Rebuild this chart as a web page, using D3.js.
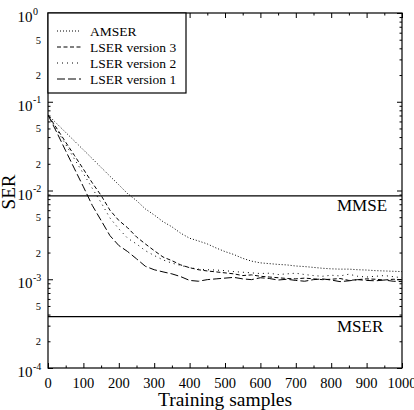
<!DOCTYPE html>
<html>
<head>
<meta charset="utf-8">
<script src="https://cdn.jsdelivr.net/npm/d3@7"></script>
<style>
body{margin:0;background:#fff}
svg text{font-family:"Liberation Serif","Times New Roman",serif;fill:#000}
</style>
</head>
<body>
<svg id="chart" width="414" height="410"></svg>
<script>
// training sample index (x)
const samples = [0,25,50,75,100,125,150,175,200,225,250,275,300,325,350,375,400,425,450,475,500,
  525,550,575,600,625,650,675,700,725,750,775,800,825,850,875,900,925,950,975,1000]

// symbol error rate curves (y), one value per sample above
const amser = [0.071,0.0566,0.0451,0.036,0.0287,0.0229,0.0182,0.0145,0.0116,0.0092,0.0077,0.0062,0.0053,0.00445,0.0039,0.0033,0.0029,0.0027,0.0025,0.00225,0.00205,
  0.0019,0.00172,0.0016,0.00153,0.0015,0.00147,0.00145,0.00141,0.00139,0.00136,0.00133,0.00131,0.0013,0.0013,0.00128,0.00127,0.00125,0.00124,0.00123,0.00122]
const lserV3 = [0.071,0.05,0.035,0.0247,0.0174,0.0122,0.0088,0.006,0.0046,0.0038,0.003,0.0025,0.0021,0.00178,0.00162,0.00145,0.00135,0.00128,0.00124,0.00121,0.00118,
  0.00115,0.0011,0.00112,0.00108,0.00106,0.00104,0.00102,0.00101,0.00103,0.00101,0.00099,0.001,0.00102,0.00097,0.00099,0.00101,0.001,0.00098,0.001,0.00099]
const lserV2 = [0.071,0.048,0.033,0.0225,0.0155,0.0106,0.0073,0.0049,0.0037,0.0029,0.0025,0.0021,0.00185,0.00165,0.00152,0.00143,0.00135,0.0013,0.00128,0.00127,0.00125,
  0.00122,0.0012,0.00118,0.00116,0.00117,0.00113,0.00115,0.00117,0.00113,0.0011,0.00108,0.00111,0.00109,0.00114,0.00108,0.00106,0.00108,0.0011,0.00107,0.00104]
const lserV1 = [0.071,0.045,0.028,0.0175,0.011,0.0068,0.0046,0.0031,0.0024,0.00205,0.0017,0.0014,0.00128,0.00121,0.00115,0.00107,0.00097,0.00095,0.00099,0.00101,0.00103,
  0.00105,0.00101,0.00099,0.00104,0.00102,0.00098,0.001,0.00097,0.00095,0.00099,0.00101,0.00098,0.00094,0.00096,0.00099,0.00097,0.00096,0.00098,0.00095,0.00094]

// reference levels
const refNames = ["MMSE","MSER"]
const refValues = [0.0087,0.00038]

const seriesNames = ["AMSER","LSER version 3","LSER version 2","LSER version 1"]
const seriesData = [amser,lserV3,lserV2,lserV1]
const dashes = ["1,2","4,2.5","1,4","8,3"]

// tick values
const xTicks = [0,100,200,300,400,500,600,700,800,900,1000]
const xMinor = [50,150,250,350,450,550,650,750,850,950]
const decadeExp = [0,-1,-2,-3,-4]
const minorMult = [2,3,4,5,6,7,8,9]
const labelledMinor = [5,2]

const pLeft = 48, pRight = 402, pTop = 13, pBottom = 368

const svg = d3.select("#chart")
const x = d3.scaleLinear().domain([0,1000]).range([pLeft,pRight])
const y = d3.scaleLog().domain([1e-4,1]).range([pBottom,pTop])

svg.append("clipPath").attr("id","clip")
  .append("rect").attr("x",pLeft).attr("y",pTop).attr("width",pRight-pLeft).attr("height",pBottom-pTop)

const decades = decadeExp.map(e=>Math.pow(10,e))
const minors = []
decades.slice(0,4).forEach(d=>minorMult.forEach(m=>minors.push(d/10*m)))

// ticks, all pointing inward
function tickLayer(axisFn, scale, vals, size, tr){
  svg.append("g").attr("transform",tr)
    .call(axisFn(scale).tickValues(vals).tickSize(-size).tickFormat(""))
    .call(g=>g.select(".domain").remove())
    .call(g=>g.selectAll("line").attr("stroke","#000").attr("stroke-width",1))
}
tickLayer(d3.axisLeft, y, decades, 5, `translate(${pLeft},0)`)
tickLayer(d3.axisLeft, y, minors, 2.5, `translate(${pLeft},0)`)
tickLayer(d3.axisRight, y, decades, 5, `translate(${pRight},0)`)
tickLayer(d3.axisRight, y, minors, 2.5, `translate(${pRight},0)`)
tickLayer(d3.axisBottom, x, xTicks, 5, `translate(0,${pBottom})`)
tickLayer(d3.axisBottom, x, xMinor, 2.5, `translate(0,${pBottom})`)
tickLayer(d3.axisTop, x, xTicks, 5, `translate(0,${pTop})`)
tickLayer(d3.axisTop, x, xMinor, 2.5, `translate(0,${pTop})`)

// x tick labels
svg.append("g").selectAll("text").data(xTicks).join("text")
  .attr("x",d=>x(d)).attr("y",pBottom+19.5)
  .attr("text-anchor","middle").attr("font-size",14.5)
  .text(d=>d)

// y decade labels 10^n
const ylab = svg.append("g").selectAll("g").data(decadeExp).join("g")
ylab.append("text")
  .attr("x",32.5).attr("y",d=>y(Math.pow(10,d))+9)
  .attr("text-anchor","end").attr("font-size",15)
  .text("10")
ylab.append("text")
  .attr("x",33).attr("y",d=>y(Math.pow(10,d))+1.5)
  .attr("font-size",10)
  .text(d=>d===0?"0":"-"+(-d))

// y minor labels 5 and 2
const minorLab = []
decades.slice(0,4).forEach(d=>labelledMinor.forEach(m=>minorLab.push({v:d/10*m,m:m})))
svg.append("g").selectAll("text").data(minorLab).join("text")
  .attr("x",41).attr("y",d=>y(d.v)+4)
  .attr("text-anchor","end").attr("font-size",10.5)
  .text(d=>d.m)

// reference lines
const refs = svg.append("g")
refs.selectAll("line").data(refValues).join("line")
  .attr("x1",pLeft).attr("x2",pRight)
  .attr("y1",d=>y(d)).attr("y2",d=>y(d))
  .attr("stroke","#000").attr("stroke-width",1.2)
refs.selectAll("text").data(refNames).join("text")
  .attr("x",337).attr("y",(d,i)=>y(refValues[i])+15)
  .attr("font-size",17)
  .text(d=>d)

// curves
const line = d3.line().x((d,i)=>x(samples[i])).y(d=>y(d))
svg.append("g").attr("clip-path","url(#clip)")
  .selectAll("path").data(seriesData).join("path")
  .attr("d",line)
  .attr("fill","none").attr("stroke","#000").attr("stroke-width",1)
  .attr("stroke-dasharray",(d,i)=>dashes[i])

// frame
svg.append("rect").attr("x",pLeft).attr("y",pTop).attr("width",pRight-pLeft).attr("height",pBottom-pTop)
  .attr("fill","none").attr("stroke","#000").attr("stroke-width",1.2)

// legend
const legend = svg.append("g")
legend.append("rect").attr("x",pLeft).attr("y",pTop).attr("width",138).attr("height",80)
  .attr("fill","#fff").attr("stroke","#000").attr("stroke-width",1.2)
const items = legend.selectAll(".item").data(seriesNames).join("g")
  .attr("transform",(d,i)=>`translate(0,${31+i*16})`)
items.append("line").attr("x1",57).attr("x2",81).attr("y1",0).attr("y2",0)
  .attr("stroke","#000").attr("stroke-width",1)
  .attr("stroke-dasharray",(d,i)=>dashes[i])
items.append("text").attr("x",90).attr("y",4.5).attr("font-size",13.5).text(d=>d)

// axis titles
svg.append("text").attr("x",225).attr("y",405.5).attr("text-anchor","middle")
  .attr("font-size",19.5).text("Training samples")
svg.append("text").attr("transform","translate(14.5,192) rotate(-90)")
  .attr("text-anchor","middle").attr("font-size",19).text("SER")
</script>
</body>
</html>
